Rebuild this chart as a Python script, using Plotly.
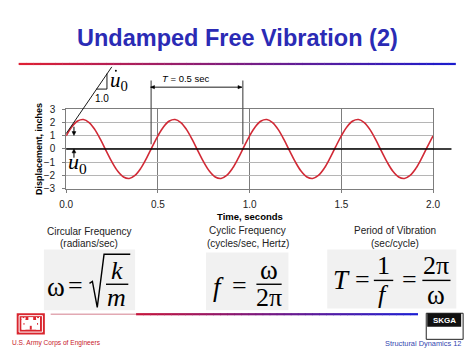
import plotly.graph_objects as go

W, H = 474, 355

# ---------------- data ----------------
time_s = [round(i * 0.03125, 5) for i in range(65)]
one_period = [1.00, 1.69, 2.12, 2.23, 2.00, 1.47, 0.71, -0.16,
              -1.00, -1.69, -2.12, -2.23, -2.00, -1.47, -0.71, 0.16]
displacement_in = one_period * 4 + [1.00]
x_tick_vals = [0, 0.5, 1.0, 1.5, 2.0]
x_tick_text = ["0.0", "0.5", "1.0", "1.5", "2.0"]
y_tick_vals = [-3, -2, -1, 0, 1, 2, 3]
period_marks = [0.463, 0.963]   # zero crossings used for the T = 0.5 sec marker

def px(x):
    return x / W

def py(y):
    return 1 - y / H

SANS = "Liberation Sans, Arial, sans-serif"
SERIF = "Liberation Serif, Times New Roman, serif"

fig = go.Figure()
fig.add_trace(go.Scatter(
    x=time_s, y=displacement_in, mode="lines",
    line=dict(color="#d12a36", width=1.6, shape="spline", smoothing=1.0),
    showlegend=False, hoverinfo="skip"))

shapes = []
annotations = []

def line(x0, y0, x1, y1, color="black", width=1, **kw):
    shapes.append(dict(type="line", xref="paper", yref="paper",
                       x0=px(x0), y0=py(y0), x1=px(x1), y1=py(y1),
                       line=dict(color=color, width=width), **kw))

def rect(x0, y0, x1, y1, fill, lc=None, lw=0, layer="below"):
    shapes.append(dict(type="rect", xref="paper", yref="paper",
                       x0=px(x0), y0=py(y0), x1=px(x1), y1=py(y1),
                       fillcolor=fill, line=dict(color=lc or fill, width=lw), layer=layer))

def poly(pts, fill="black"):
    path = "M " + " L ".join("%f %f" % (px(a), py(b)) for a, b in pts) + " Z"
    shapes.append(dict(type="path", xref="paper", yref="paper", path=path,
                       fillcolor=fill, line=dict(color=fill, width=0.5)))

def text(x, y, t, size, color="black", family=SANS, xanchor="center", **kw):
    annotations.append(dict(xref="paper", yref="paper", x=px(x), y=py(y), text=t,
                            showarrow=False, xanchor=xanchor, yanchor="middle",
                            font=dict(size=size, color=color, family=family), **kw))

def gradient(x0, x1, y, c0, c1, n=40, width=2):
    for i in range(n):
        f = i / (n - 1)
        c = tuple(int(round(c0[k] + (c1[k] - c0[k]) * f)) for k in range(3))
        a = x0 + (x1 - x0) * i / n
        b = x0 + (x1 - x0) * (i + 1) / n + 0.5
        line(a, y, b, y, color="rgb(%d,%d,%d)" % c, width=width)

# ---------------- title ----------------
text(237, 33, "<b>Undamped Free Vibration (2)</b>", 23.5, color="#2b2bb5")
gradient(12, 462, 60, (222, 32, 52), (28, 28, 205), n=60, width=2.2)

# ---------------- chart decorations ----------------
# extended zero line
shapes.append(dict(type="line", xref="paper", yref="y", x0=px(61), x1=px(458), y0=0, y1=0,
                   line=dict(color="black", width=1.6)))
# slope line and small triangle
line(61, 132, 108, 63, width=0.9)
line(103, 70, 103, 86, width=0.9)
line(92, 86, 103, 86, width=0.9)
text(98, 96, "1.0", 10)
text(115, 78, "<i>u</i><sub>0</sub>", 21, family=SERIF)
shapes.append(dict(type="circle", xref="paper", yref="paper",
                   x0=px(111.2), x1=px(113.2), y0=py(66), y1=py(68),
                   fillcolor="black", line=dict(width=0)))
# u0 arrows
line(69, 125, 69, 131, width=1)
poly([(67, 130), (71, 130), (69, 134)])
line(69, 157, 69, 151, width=1)
poly([(67, 152), (71, 152), (69, 148)])
text(73, 163, "<i>u</i><sub>0</sub>", 22, family=SERIF)
# period marker
for t in period_marks:
    shapes.append(dict(type="line", xref="x", yref="paper", x0=t, x1=t, y0=py(77), y1=py(143),
                       line=dict(color="#555555", width=1.2)))
line(148, 84, 242, 84, width=0.9)
poly([(148, 84), (152, 82.3), (152, 85.7)])
poly([(242, 84), (238, 82.3), (238, 85.7)])
text(184, 75, "<i>T</i> = 0.5 sec", 9.5)

# axis titles
text(33, 148, "<b>Displacement, inches</b>", 9, textangle=-90)
text(250, 218, "<b>Time, seconds</b>", 9.5)

# ---------------- formula panels ----------------
text(85, 233, "Circular Frequency", 10, color="#222")
text(85, 246, "(radians/sec)", 10, color="#222")
text(248, 232, "Cyclic Frequency", 10, color="#222")
text(248, 246, "(cycles/sec, Hertz)", 10, color="#222")
text(400, 232, "Period of Vibration", 10, color="#222")
text(400, 246, "(sec/cycle)", 10, color="#222")

rect(38, 252, 132, 315, "#f1f1f1")
rect(205, 255, 290, 315, "#f1f1f1")
rect(330, 252, 463, 313, "#f1f1f1")

# omega = sqrt(k/m)
text(50, 291, "ω", 27, family=SERIF)
text(71, 289, "=", 26, family=SERIF)
shapes.append(dict(type="path", xref="paper", yref="paper",
                   path="M %f %f L %f %f L %f %f L %f %f L %f %f" % (
                       px(85), py(287), px(88), py(285), px(93), py(312),
                       px(100), py(257), px(127), py(257)),
                   line=dict(color="black", width=1.4)))
text(113, 274, "<i>k</i>", 26, family=SERIF)
line(102, 288, 125, 288, width=1.4)
text(113, 302, "<i>m</i>", 26, family=SERIF)

# f = omega / 2pi
text(218, 291, "<i>f</i>", 27, family=SERIF)
text(240, 289, "=", 26, family=SERIF)
text(270, 273, "ω", 27, family=SERIF)
line(257, 288, 283, 288, width=1.4)
text(270, 302, "2π", 26, family=SERIF)

# T = 1/f = 2pi/omega
text(345, 284, "<i>T</i>", 27, family=SERIF)
text(366, 283, "=", 26, family=SERIF)
text(388, 269, "1", 26, family=SERIF)
line(378, 284, 398, 284, width=1.4)
text(388, 299, "<i>f</i>", 26, family=SERIF)
text(415, 283, "=", 26, family=SERIF)
text(442, 269, "2π", 26, family=SERIF)
line(428, 284, 457, 284, width=1.4)
text(442, 299, "ω", 27, family=SERIF)

# ---------------- footer ----------------
line(45, 319, 133, 319, color="#e2a9b3", width=1.6)
gradient(133, 423, 319, (196, 20, 60), (30, 30, 210), n=40, width=2.2)

# USACE logo
rect(10, 318, 39, 340, "#d9262f", layer="above")
shapes.append(dict(type="rect", xref="paper", yref="paper", x0=px(12.5), x1=px(36.5),
                   y0=py(320.5), y1=py(337.5), fillcolor="rgba(0,0,0,0)",
                   line=dict(color="white", width=1)))
for (a, b, c, d) in [(15, 325, 34, 335), (15, 323, 19, 335), (30, 323, 34, 335),
                     (22, 322, 27, 330), (15, 322, 16, 324), (18, 322, 19, 324),
                     (30, 322, 31, 324), (33, 322, 34, 324)]:
    shapes.append(dict(type="rect", xref="paper", yref="paper", x0=px(a), x1=px(c),
                       y0=py(b), y1=py(d), fillcolor="white", line=dict(width=0)))
for (a, b, c, d) in [(23.5, 331, 25.5, 335), (17, 328, 18, 330), (31, 328, 32, 330)]:
    shapes.append(dict(type="rect", xref="paper", yref="paper", x0=px(a), x1=px(c),
                       y0=py(b), y1=py(d), fillcolor="#d9262f", line=dict(width=0)))
text(51, 349, "U.S. Army Corps of Engineers", 6.6, color="#c8202a")

# SKGA logo
shapes.append(dict(type="rect", xref="paper", yref="paper", x0=px(432), x1=px(470),
                   y0=py(345), y1=py(318), fillcolor="white", line=dict(color="#222", width=1)))
shapes.append(dict(type="rect", xref="paper", yref="paper", x0=px(433), x1=px(468),
                   y0=py(332), y1=py(318), fillcolor="#111", line=dict(width=0)))
text(451, 325, "<b>SKGA</b>", 8, color="white")
text(429, 349, "Structural Dynamics 12", 7.4, color="#3246b0")

fig.update_layout(
    width=W, height=H, autosize=False,
    margin=dict(l=0, r=0, t=0, b=0),
    paper_bgcolor="white", plot_bgcolor="white",
    shapes=shapes, annotations=annotations,
    font=dict(family=SANS, size=10, color="black"),
    xaxis=dict(domain=[px(61), px(439)], range=[0, 2], tickvals=x_tick_vals, ticktext=x_tick_text,
               showgrid=True, gridcolor="#7d7d7d", gridwidth=1, showline=True, linecolor="#7d7d7d",
               linewidth=1, mirror=True, ticks="outside", ticklen=3, tickcolor="#7d7d7d",
               zeroline=False, tickfont=dict(size=10, color="#222"), fixedrange=True,
               ticklabelstandoff=3),
    yaxis=dict(domain=[py(189), py(107)], range=[-3, 3], tickvals=y_tick_vals,
               showgrid=True, gridcolor="#b5b5b5", gridwidth=1, showline=True, linecolor="#7d7d7d",
               linewidth=1, mirror=True, ticks="outside", ticklen=3, tickcolor="#7d7d7d",
               zeroline=False, tickfont=dict(size=10, color="#222"), fixedrange=True,
               ticklabelstandoff=5),
)

fig.write_html("out.html", config={"displayModeBar": False},
               post_script="document.body.style.margin='0px';document.body.style.padding='0px';"
                           "document.body.style.overflow='hidden';")
